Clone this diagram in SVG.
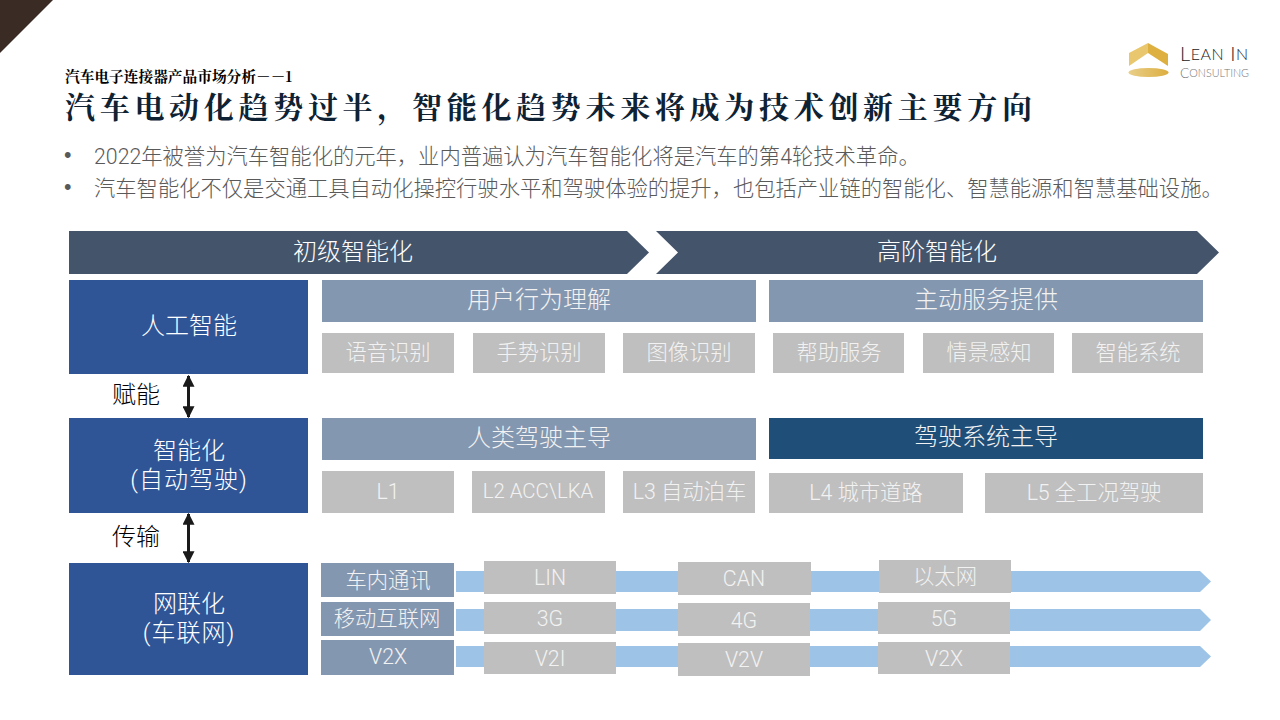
<svg xmlns="http://www.w3.org/2000/svg" width="1280" height="720" viewBox="0 0 1280 720">
<style>
text{font-family:Roboto,"Noto Sans CJK SC","Liberation Sans",sans-serif;font-weight:300;text-anchor:middle;dominant-baseline:central}
.g{fill:#bfbfbf}.s{fill:#8497b0}.b{fill:#2f5597}.h{fill:#44546a}.a{fill:#9dc3e6}
.t24{font-size:24px;fill:#f2f2f2}.t21{font-size:21.3px;fill:#f2f2f2}.t24w{font-size:24px;fill:#fff}
.par{letter-spacing:1px}
.l{text-anchor:start}
</style>
<defs>
<linearGradient id="gold" x1="0" x2="1"><stop offset="0" stop-color="#e9cf8a"/><stop offset="1" stop-color="#dcae3f"/></linearGradient>
<marker id="ah" viewBox="0 0 10 10" refX="9" refY="5" markerWidth="4" markerHeight="4" orient="auto-start-reverse"><path d="M0 0L10 5L0 10Z" fill="#1a1a1a"/></marker>
</defs>
<polygon points="0,0 53,0 0,53" fill="#3a2c24"/>
<g id="logo">
<polygon points="1129,53 1148,43 1148,53 1129,66" fill="#e8c76e"/>
<polygon points="1148,43 1168,54 1168,66 1148,53" fill="#deb040"/>
<ellipse cx="1148.500" cy="72.500" rx="20" ry="4.500" fill="url(#gold)"/>
<text class="l" x="1180" y="53" style="font-family:Lato,'Liberation Sans',sans-serif;font-size:20px;fill:#222" textLength="68" lengthAdjust="spacing">L<tspan font-size="16">EAN</tspan> I<tspan font-size="16">N</tspan></text>
<text class="l" x="1180" y="72" style="font-family:Lato,'Liberation Sans',sans-serif;font-size:14px;fill:#777" textLength="69" lengthAdjust="spacingAndGlyphs">C<tspan font-size="11">ONSULTING</tspan></text>
</g>
<g id="heading">
<text class="l" x="65" y="75" style="font-size:14.700px;font-weight:700;fill:#000;font-family:'Noto Serif CJK SC','Noto Sans CJK SC',serif">汽车电子连接器产品市场分析－－1</text>
<text class="l" x="65" y="105" style="font-size:30px;font-weight:700;letter-spacing:4.700px;fill:#0e2233;font-family:'Noto Serif CJK SC','Noto Sans CJK SC',serif">汽车电动化趋势过半，智能化趋势未来将成为技术创新主要方向</text>
<g style="font-size:21.300px;fill:#595959">
<text class="l" x="64" y="155" style="font-family:'Liberation Sans',sans-serif">•</text>
<text class="l" x="94" y="156">2022年被誉为汽车智能化的元年，业内普遍认为汽车智能化将是汽车的第4轮技术革命。</text>
<text class="l" x="64" y="187" style="font-family:'Liberation Sans',sans-serif">•</text>
<text class="l" x="94" y="188">汽车智能化不仅是交通工具自动化操控行驶水平和驾驶体验的提升，也包括产业链的智能化、智慧能源和智慧基础设施。</text>
</g>
</g>
<g id="phase-1"><polygon class="h" points="69,231 627,231 649,252.500 627,274 69,274"/><text class="t24w" x="353" y="252">初级智能化</text></g>
<g id="phase-2"><polygon class="h" points="656,231 1197,231 1219,252.500 1197,274 656,274 678,252.500"/><text class="t24w" x="937" y="252">高阶智能化</text></g>
<g id="ai"><rect class="b" x="69" y="280" width="239" height="94"/><text class="t24w" x="189" y="326">人工智能</text></g>
<g id="auto"><rect class="b" x="69" y="418" width="239" height="95"/><text class="t24w" x="189" y="451">智能化</text><text class="t24w par" x="189" y="480">(自动驾驶)</text></g>
<g id="net"><rect class="b" x="69" y="563" width="239" height="112"/><text class="t24w" x="189" y="604">网联化</text><text class="t24w par" x="189" y="633">(车联网)</text></g>
<g id="connectors" stroke="#1a1a1a" stroke-width="3" fill="none">
<line x1="188.500" y1="376" x2="188.500" y2="417" marker-start="url(#ah)" marker-end="url(#ah)"/>
<line x1="188.500" y1="514" x2="188.500" y2="562" marker-start="url(#ah)" marker-end="url(#ah)"/>
</g>
<g id="conn-labels"><text x="136" y="395" style="font-size:24px;fill:#000">赋能</text><text x="136" y="537" style="font-size:24px;fill:#000">传输</text></g>
<g id="row-ai">
<g id="n1"><rect class="s" x="322" y="280" width="434" height="42"/><text class="t24" x="539" y="300">用户行为理解</text></g>
<g id="n2"><rect class="s" x="769" y="280" width="434" height="42"/><text class="t24" x="986" y="300">主动服务提供</text></g>
<g id="n3"><rect class="g" x="322" y="333" width="132" height="40"/><text class="t21" x="388" y="352">语音识别</text></g>
<g id="n4"><rect class="g" x="473" y="333" width="132" height="40"/><text class="t21" x="539" y="352">手势识别</text></g>
<g id="n5"><rect class="g" x="623" y="333" width="132" height="40"/><text class="t21" x="689" y="352">图像识别</text></g>
<g id="n6"><rect class="g" x="773" y="333" width="131" height="40"/><text class="t21" x="839" y="352">帮助服务</text></g>
<g id="n7"><rect class="g" x="923" y="333" width="131" height="40"/><text class="t21" x="989" y="352">情景感知</text></g>
<g id="n8"><rect class="g" x="1072" y="333" width="131" height="40"/><text class="t21" x="1138" y="352">智能系统</text></g>
</g>
<g id="row-auto">
<g id="n9"><rect class="s" x="322" y="418" width="434" height="42"/><text class="t24" x="539" y="438">人类驾驶主导</text></g>
<g id="n10"><rect fill="#1f4e79" x="769" y="418" width="434" height="41"/><text class="t24" x="986" y="437">驾驶系统主导</text></g>
<g id="n11"><rect class="g" x="322" y="471" width="132" height="42"/><text class="t21" x="388" y="491">L1</text></g>
<g id="n12"><rect class="g" x="472" y="471" width="133" height="42"/><text class="t21" x="538" y="491" style="font-size:20.400px">L2 ACC\LKA</text></g>
<g id="n13"><rect class="g" x="623" y="471" width="132" height="42"/><text class="t21" x="689.500" y="491">L3 自动泊车</text></g>
<g id="n14"><rect class="g" x="769" y="473" width="194" height="40"/><text class="t21" x="866" y="492">L4 城市道路</text></g>
<g id="n15"><rect class="g" x="985" y="473" width="218" height="40"/><text class="t21" x="1094" y="492">L5 全工况驾驶</text></g>
</g>
<g id="bars">
<polygon class="a" points="456,571 1200,571 1211,581.500 1200,592 456,592"/>
<polygon class="a" points="456,609 1200,609 1211,620 1200,631 456,631"/>
<polygon class="a" points="456,646 1200,646 1211,656.500 1200,667 456,667"/>
</g>
<g id="row-net">
<g id="n16"><rect class="s" x="321" y="563" width="133" height="34"/><text class="t21" x="388" y="580">车内通讯</text></g>
<g id="n17"><rect class="s" x="321" y="602" width="133" height="34"/><text class="t21" x="387" y="618">移动互联网</text></g>
<g id="n18"><rect class="s" x="321" y="640" width="133" height="35"/><text class="t21" x="388" y="656">V2X</text></g>
<g id="n19"><rect class="g" x="484" y="561" width="132" height="33"/><text class="t21" x="550" y="577">LIN</text></g>
<g id="n20"><rect class="g" x="678" y="562" width="133" height="33"/><text class="t21" x="744" y="578">CAN</text></g>
<g id="n21"><rect class="g" x="879" y="560" width="132" height="33"/><text class="t21" x="945" y="576">以太网</text></g>
<g id="n22"><rect class="g" x="484" y="602" width="132" height="32"/><text class="t21" x="550" y="618">3G</text></g>
<g id="n23"><rect class="g" x="678" y="603" width="132" height="33"/><text class="t21" x="744" y="620">4G</text></g>
<g id="n24"><rect class="g" x="878" y="602" width="132" height="32"/><text class="t21" x="944" y="618">5G</text></g>
<g id="n25"><rect class="g" x="484" y="642" width="132" height="32"/><text class="t21" x="550" y="658">V2I</text></g>
<g id="n26"><rect class="g" x="678" y="643" width="132" height="33"/><text class="t21" x="744" y="659">V2V</text></g>
<g id="n27"><rect class="g" x="878" y="642" width="132" height="32"/><text class="t21" x="944" y="658">V2X</text></g>
</g>
</svg>
